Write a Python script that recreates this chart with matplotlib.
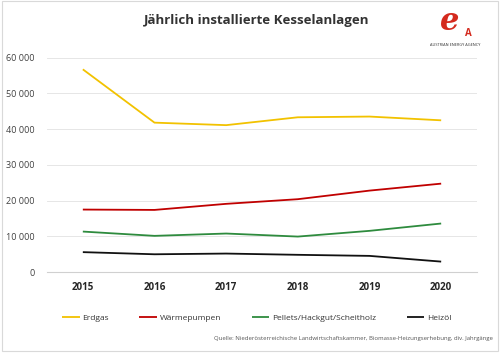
import matplotlib
matplotlib.use("Agg")
import matplotlib.pyplot as plt
from matplotlib.patches import Rectangle

years = ["2015", "2016", "2017", "2018", "2019", "2020"]
erdgas = [56700, 41800, 41100, 43300, 43500, 42450]
waermepumpen = [17500, 17400, 19100, 20400, 22800, 24750]
pellets = [11350, 10150, 10800, 9950, 11550, 13600]
heizoel = [5600, 5000, 5200, 4850, 4550, 2950]

series = [
    ("Erdgas", erdgas, "#F2C200"),
    ("Wärmepumpen", waermepumpen, "#C00000"),
    ("Pellets/Hackgut/Scheitholz", pellets, "#2E8B3E"),
    ("Heizöl", heizoel, "#111111"),
]
yticks = [0, 10000, 20000, 30000, 40000, 50000, 60000]
ytick_labels = ["0", "10 000", "20 000", "30 000", "40 000", "50 000", "60 000"]

plt.rcParams["font.family"] = ["Open Sans", "DejaVu Sans"]

fig = plt.figure(figsize=(5, 3.53), dpi=100)
ax = fig.add_axes([0.094, 0.229, 0.86, 0.608])

x = list(range(len(years)))
handles = []
for name, vals, col in series:
    h, = ax.plot(x, vals, color=col, lw=1.3, label=name, solid_capstyle="butt")
    handles.append(h)

ax.set_xlim(-0.5, len(years) - 0.5)
ax.set_ylim(0, 60000)
ax.set_yticks(yticks)
ax.set_yticklabels(ytick_labels, fontsize=6.5, color="#404040")
ax.set_xticks(x)
ax.set_xticklabels(years, fontsize=7, fontweight="bold", color="#262626")
ax.tick_params(length=0, pad=7)
ax.tick_params(axis="y", pad=9)
ax.grid(axis="y", color="#E6E6E6", lw=0.7)
ax.set_axisbelow(True)
for s in ["top", "right", "left"]:
    ax.spines[s].set_visible(False)
ax.spines["bottom"].set_color("#D0D0D0")
ax.spines["bottom"].set_linewidth(0.8)

fig.text(0.514, 0.943, "Jährlich installierte Kesselanlagen", ha="center", va="center",
         fontsize=9.5, fontweight="bold", color="#333333")

fig.legend(handles=handles, loc="center", bbox_to_anchor=(0.513, 0.1), ncol=4,
           frameon=False, fontsize=6, handlelength=2.1, handletextpad=0.3,
           columnspacing=3.7, labelcolor="#333333")

fig.text(0.986, 0.042, "Quelle: Niederösterreichische Landwirtschaftskammer, Biomasse-Heizungserhebung, div. Jahrgänge",
         ha="right", va="center", fontsize=4.3, color="#555555")

# logo
fig.text(0.9, 0.94, "e", ha="center", va="center", fontsize=22, fontweight="bold",
         fontstyle="italic", family="DejaVu Serif", color="#D42A1E")
fig.text(0.936, 0.905, "A", ha="center", va="center", fontsize=7, fontweight="bold",
         color="#D42A1E")
fig.text(0.91, 0.872, "AUSTRIAN ENERGY AGENCY", ha="center", va="center",
         fontsize=2.8, color="#333333")

fig.patches.append(Rectangle((0.003, 0.006), 0.992, 0.99, transform=fig.transFigure,
                             fill=False, ec="#D9D9D9", lw=0.8))

fig.savefig("out.png", dpi=100, facecolor="white")
